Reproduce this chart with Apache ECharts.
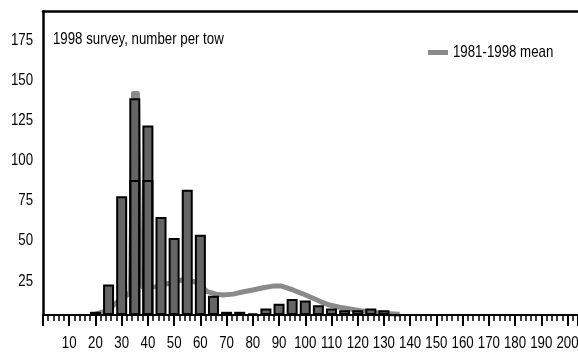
<!DOCTYPE html>
<html>
<head>
<meta charset="utf-8">
<script src="https://cdn.jsdelivr.net/npm/echarts@6/dist/echarts.min.js"></script>
<style>
  html, body { margin: 0; padding: 0; background: #fff; }
  #chart { width: 578px; height: 353px; }
</style>
</head>
<body>
<div id="chart"></div>
<script>
// Length bins (5-unit classes) and the 1998 catch per tow
const binCenters = [20, 25, 30, 35, 40, 45, 50, 55, 60, 65, 70, 75, 80, 85, 90, 95, 100, 105, 110, 115, 120, 125, 130];
const counts1998 = [2, 19, 74, 135, 118, 61, 48, 78, 50, 12, 2, 2, 1, 4, 7, 10, 9, 6, 4, 3, 3, 4, 3];
// Lower part of the two tallest bars, drawn as a separate outlined segment
const splitBins = [35, 40];
const splitValues = [84, 84];

// Long-term mean curve
const meanX = [20, 25, 27.5, 32.5, 33.3, 34.5, 36, 37, 38, 43, 48, 53, 58, 62.7, 66, 68.4, 72.5, 76, 80, 84, 87.6, 91, 95.3, 99, 103, 106, 109.3, 113, 117, 121, 124.5, 130, 136];
const meanY = [0.5, 3, 7, 13, 14, 138, 138, 30, 17.5, 17.6, 19.7, 21.8, 20.7, 14.5, 13, 12.5, 13, 14.3, 15.6, 17, 18, 18, 15.6, 13.2, 10.4, 8.2, 6.2, 4.8, 3.7, 2.6, 2, 1, 0.4];

// Tick labels
const yTickLabels = [25, 50, 75, 100, 125, 150, 175];
const xTickLabels = [10, 20, 30, 40, 50, 60, 70, 80, 90, 100, 110, 120, 130, 140, 150, 160, 170, 180, 190, 200];

const TITLE = '1998 survey, number per tow';
const MEAN_NAME = '1981-1998 mean';

// Narrow sans text: a regular sans face squeezed horizontally
const FONT = "17px 'Liberation Sans', Arial, sans-serif";
const SQUEEZE = 0.78;

const chart = echarts.init(document.getElementById('chart'), null, { renderer: 'canvas' });

const barData = binCenters.map((x, i) => [x, counts1998[i]]);
const splitData = splitBins.map((x, i) => [x, splitValues[i]]);
const meanData = meanX.map((x, i) => [x, meanY[i]]);

chart.setOption({
  animation: false,
  backgroundColor: '#ffffff',
  legend: {
    data: [MEAN_NAME],
    left: 428,
    top: 50,
    padding: 0,
    icon: 'rect',
    itemWidth: 20,
    itemHeight: 5,
    itemGap: 0,
    formatter: () => '',
    textStyle: { fontSize: 1, padding: 0 }
  },
  grid: { left: 43, right: 0, top: 11.5, bottom: 38 },
  xAxis: [{
    type: 'value',
    min: 0,
    max: 204,
    interval: 10,
    z: 5,
    axisLine: { show: true, onZero: false, lineStyle: { color: '#000', width: 2 } },
    axisTick: { show: true, length: 11, lineStyle: { color: '#000', width: 2 } },
    minorTick: { show: true, splitNumber: 5, length: 6, lineStyle: { color: '#000', width: 1.5 } },
    axisLabel: { show: false },
    splitLine: { show: false }
  }, {
    type: 'value',
    position: 'top',
    min: 0,
    max: 204,
    z: 5,
    axisLine: { show: true, onZero: false, lineStyle: { color: '#000', width: 2.5 } },
    axisTick: { show: false },
    axisLabel: { show: false },
    splitLine: { show: false }
  }],
  yAxis: {
    type: 'value',
    min: 0,
    max: 189,
    interval: 25,
    z: 5,
    axisLine: { show: true, onZero: false, lineStyle: { color: '#000', width: 2.5 } },
    axisTick: { show: false },
    splitLine: { show: false },
    axisLabel: { show: false }
  },
  series: [{
    name: MEAN_NAME,
    type: 'line',
    z: 1,
    data: meanData,
    showSymbol: false,
    symbol: 'none',
    smooth: false,
    color: '#8a8a8a',
    lineStyle: { color: '#8a8a8a', width: 5, join: 'round' }
  }, {
    name: '1998 survey',
    type: 'bar',
    z: 2,
    data: barData,
    barWidth: 11,
    itemStyle: { color: '#656565', borderColor: '#000', borderWidth: 2 }
  }, {
    name: 'lower segment',
    type: 'bar',
    z: 3,
    data: splitData,
    barWidth: 11,
    barGap: '-100%',
    itemStyle: { color: 'rgba(0,0,0,0)', borderColor: '#000', borderWidth: 2 }
  }]
});

// Text labels placed through the axis scales, squeezed to a narrow face
function label(text, x, y, align) {
  return {
    type: 'text',
    x: x,
    y: y,
    scaleX: SQUEEZE,
    z: 10,
    silent: true,
    style: { text: String(text), font: FONT, fill: '#000', align: align, verticalAlign: 'middle' }
  };
}

const xZero = chart.convertToPixel({ xAxisIndex: 0 }, 0);
const yZero = chart.convertToPixel({ yAxisIndex: 0 }, 0);
const yTop = chart.convertToPixel({ yAxisIndex: 0 }, 189);

const texts = [];
yTickLabels.forEach(v => {
  texts.push(label(v, xZero - 10, chart.convertToPixel({ yAxisIndex: 0 }, v) + 6, 'right'));
});
xTickLabels.forEach(v => {
  texts.push(label(v, chart.convertToPixel({ xAxisIndex: 0 }, v), yZero + 28, 'center'));
});
texts.push(label(TITLE, xZero + 10, yTop + 28, 'left'));
texts.push(label(MEAN_NAME, 453, 52.5, 'left'));

chart.setOption({ graphic: texts });
</script>
</body>
</html>
